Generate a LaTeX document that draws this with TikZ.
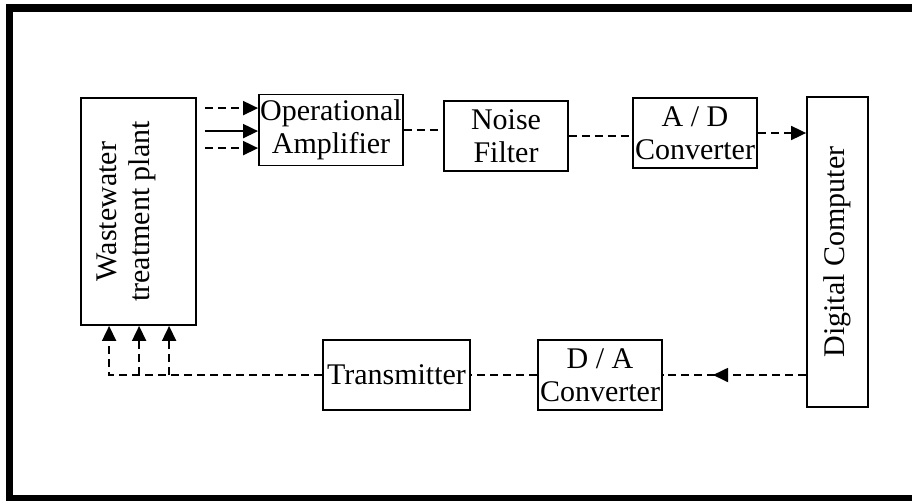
\documentclass[tikz,border=0pt]{standalone}
\usepackage{fontspec}
\setmainfont{Liberation Serif}
\usetikzlibrary{arrows.meta,calc,decorations.markings}

\begin{document}
\begin{tikzpicture}[x=1pt,y=-1pt,
    block/.style={draw,line width=1.8pt,inner sep=0pt,align=center,
      font=\fontsize{30}{33}\selectfont},
    link/.style={line width=1.8pt,dash pattern=on 8pt off 5pt},
    tip/.style={-{Triangle[length=15pt,width=14pt]}}]

  \useasboundingbox (0,0) rectangle (912,501);
  %% frame
  \fill (6,4) rectangle (912,12);
  \fill (6,4) rectangle (13,501);
  \fill (6,495) rectangle (912,501);

  \node[block,minimum width=115pt,minimum height=227pt] (Plant) at (138.5,211.5)
    {\hspace*{-24pt}\rotatebox{90}{\begin{tabular}{@{}c@{}}Wastewater\\treatment plant\end{tabular}}};
  \node[block,minimum width=144pt,minimum height=71pt] (Amplifier) at (331,130) {Operational\\Amplifier};
  \node[block,minimum width=124pt,minimum height=70pt] (Filter) at (506,136) {Noise\\Filter};
  \node[block,minimum width=124pt,minimum height=70pt] (ADC) at (695,133) {A / D\\Converter};
  \node[block,minimum width=61pt,minimum height=310pt] (Computer) at (837.5,252) {\rotatebox{90}{Digital Computer}};
  \node[block,minimum width=147pt,minimum height=70pt] (Transmitter) at (396.5,375) {Transmitter};
  \node[block,minimum width=124pt,minimum height=70pt] (DAC) at (600,375) {D / A\\Converter};

  %% plant outputs to amplifier
  \foreach \dy/\kind in {11/link,34/solid,51/link}
    \draw[line width=1.8pt,\kind,tip,shorten <=8pt] ($(Plant.north east)+(0,\dy)$) coordinate (src) -- (src -| Amplifier.west);

  \draw[link] (Amplifier.east) -- (Amplifier.east -| Filter.west);
  \draw[link] (Filter.east) -- (Filter.east -| ADC.west);
  \draw[link,tip] (ADC.east) -- (ADC.east -| Computer.west);

  %% feedback path
  \draw[link,postaction={decorate},
    decoration={markings,mark=at position 0.65 with {\arrow{Triangle[length=15pt,width=14pt]}}}]
    (Computer.west |- DAC.east) -- (DAC.east);
  \draw[link] (DAC.west) -- (Transmitter.east);

  \coordinate (F1) at ([xshift=29pt]Plant.south west);
  \coordinate (F2) at ([xshift=59pt]Plant.south west);
  \coordinate (F3) at ([xshift=89pt]Plant.south west);
  \draw[link,tip] (Transmitter.west) -| (F1);
  \draw[link,tip] (F2 |- Transmitter.west) -- (F2);
  \draw[link,tip] (F3 |- Transmitter.west) -- (F3);

\end{tikzpicture}
\end{document}
